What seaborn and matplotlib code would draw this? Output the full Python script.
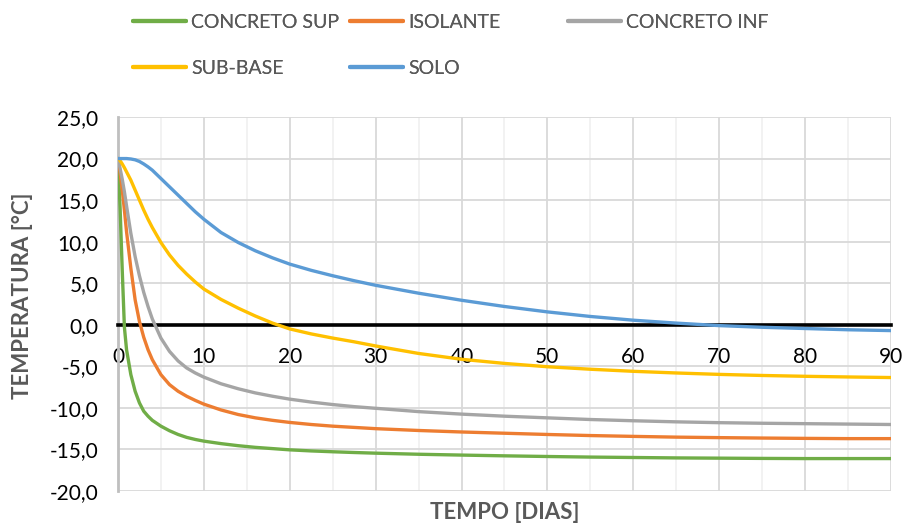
import numpy as np
import pandas as pd
import matplotlib
matplotlib.use("Agg")
import matplotlib.pyplot as plt
from matplotlib.ticker import MultipleLocator, FuncFormatter
import seaborn as sns

# Time in days (shared by every layer)
dias = [0, 0.25, 0.5, 0.75, 1, 1.5, 2, 2.5, 3, 3.5, 4, 5, 6, 7, 8, 9, 10,
        12, 14, 16, 18, 20, 22.5, 25, 27.5, 30, 35, 40, 45, 50, 55, 60, 65,
        70, 75, 80, 85, 90]

# Temperature of each layer [°C]
concreto_sup = [20, 14.0, 6.5, -0.3, -3.0, -6.0, -8.0, -9.4, -10.4, -11.0, -11.5,
                -12.2, -12.75, -13.2, -13.55, -13.8, -14.0, -14.3, -14.55, -14.75, -14.9,
                -15.05, -15.18, -15.28, -15.37, -15.45, -15.58, -15.68, -15.77, -15.85, -15.92,
                -15.97, -16.02, -16.05, -16.08, -16.1, -16.1, -16.1]
isolante = [20, 18.3, 16.2, 13.8, 11.2, 6.8, 3.0, 0.4, -1.5, -3.0, -4.2,
            -6.0, -7.2, -8.0, -8.6, -9.1, -9.55, -10.25, -10.8, -11.2, -11.5,
            -11.75, -12.0, -12.2, -12.35, -12.5, -12.72, -12.9, -13.05, -13.2, -13.33,
            -13.43, -13.52, -13.58, -13.63, -13.67, -13.7, -13.7]
concreto_inf = [20, 18.8, 17.5, 16.0, 14.3, 11.0, 8.2, 5.9, 3.9, 2.2, 0.7,
                -1.6, -3.2, -4.35, -5.2, -5.8, -6.3, -7.1, -7.7, -8.2, -8.6,
                -8.95, -9.3, -9.6, -9.85, -10.05, -10.45, -10.75, -11.0, -11.2, -11.4,
                -11.55, -11.68, -11.78, -11.85, -11.9, -11.95, -12.0]
sub_base = [20, 19.75, 19.35, 18.9, 18.4, 17.4, 16.2, 15.0, 13.8, 12.7, 11.7,
            9.9, 8.4, 7.15, 6.1, 5.15, 4.3, 3.05, 2.0, 1.05, 0.2,
            -0.5, -1.1, -1.6, -2.05, -2.55, -3.45, -4.15, -4.65, -5.05, -5.35,
            -5.6, -5.8, -5.97, -6.1, -6.2, -6.28, -6.35]
solo = [20, 20, 20, 20, 20, 19.95, 19.85, 19.65, 19.35, 19.0, 18.6,
        17.6, 16.6, 15.6, 14.6, 13.6, 12.7, 11.1, 9.9, 8.9, 8.05,
        7.3, 6.55, 5.9, 5.3, 4.75, 3.8, 2.95, 2.2, 1.55, 1.0,
        0.55, 0.2, -0.1, -0.3, -0.45, -0.6, -0.7]

series = ["CONCRETO SUP", "ISOLANTE", "CONCRETO INF", "SUB-BASE", "SOLO"]
valores = [concreto_sup, isolante, concreto_inf, sub_base, solo]
cores = ["#70AD47", "#ED7D31", "#A5A5A5", "#FFC000", "#5B9BD5"]

df = pd.concat(
    [pd.DataFrame({"dia": dias, "temp": v, "camada": s}) for s, v in zip(series, valores)],
    ignore_index=True,
)

sns.set_theme(style="white")
plt.rcParams["font.family"] = ["Lato", "DejaVu Sans"]

fig = plt.figure(figsize=(9.06, 5.28), dpi=100)
ax = fig.add_axes([0.1302, 0.0701, 0.8532, 0.7083])

sns.lineplot(data=df, x="dia", y="temp", hue="camada", hue_order=series,
             palette=cores, estimator=None, sort=False, linewidth=2.4,
             ax=ax, legend=True, zorder=3)
for ln in ax.get_lines():
    ln.set_solid_joinstyle("round")
    ln.set_solid_capstyle("round")
handles, labels = ax.get_legend_handles_labels()
ax.get_legend().remove()

ax.set_xlim(0, 90)
ax.set_ylim(-20, 25)

# grid: major every 10 days, minor every 5 days, every 5 °C
ax.xaxis.set_major_locator(MultipleLocator(10))
ax.xaxis.set_minor_locator(MultipleLocator(5))
ax.yaxis.set_major_locator(MultipleLocator(5))
ax.grid(which="major", axis="both", color="#D9D9D9", linewidth=1.3, zorder=0)
ax.grid(which="minor", axis="x", color="#EFEFEF", linewidth=1.1, zorder=0)
ax.set_axisbelow(True)

ax.yaxis.set_major_formatter(FuncFormatter(lambda v, p: f"{v:.1f}".replace(".", ",")))
ax.xaxis.set_major_formatter(FuncFormatter(lambda v, p: f"{v:.0f}"))

# horizontal axis crosses at 0 °C
for s in ["top", "right"]:
    ax.spines[s].set_visible(False)
ax.spines["bottom"].set_position(("data", 0))
ax.spines["bottom"].set_color("black")
ax.spines["bottom"].set_linewidth(2.6)
ax.spines["bottom"].set_zorder(2.5)
ax.spines["left"].set_color("#BFBFBF")
ax.spines["left"].set_linewidth(2.0)

ax.tick_params(axis="both", which="both", length=0, labelsize=15, labelcolor="#000000")
ax.tick_params(axis="x", pad=16)
ax.tick_params(axis="y", pad=14)

ax.set_xlabel("TEMPO [DIAS]", fontsize=16, fontweight="bold", color="#595959")
ax.set_ylabel("TEMPERATURA [°C]", fontsize=16, fontweight="bold", color="#595959")
ax.xaxis.label.set_verticalalignment("center")
ax.yaxis.label.set_verticalalignment("center")
ax.xaxis.set_label_coords(0.50, -0.0588)
ax.yaxis.set_label_coords(-0.124, 0.521)

# legend laid out on a fixed grid above the plot
pos = {
    "CONCRETO SUP": (133, 22), "ISOLANTE": (350, 22), "CONCRETO INF": (568, 22),
    "SUB-BASE": (133, 68), "SOLO": (350, 68),
}
W, H = 906, 528
for h, l in zip(handles, labels):
    px, py = pos[l]
    h.set_linewidth(3.0)
    leg = fig.legend([h], [l], loc="center left", bbox_to_anchor=(px / W, 1 - py / H),
                     frameon=False, borderpad=0, borderaxespad=0, handlelength=2.7,
                     handletextpad=0.3, fontsize=14, labelcolor="#595959")
    fig.add_artist(leg)

fig.savefig("out.png", dpi=100)
